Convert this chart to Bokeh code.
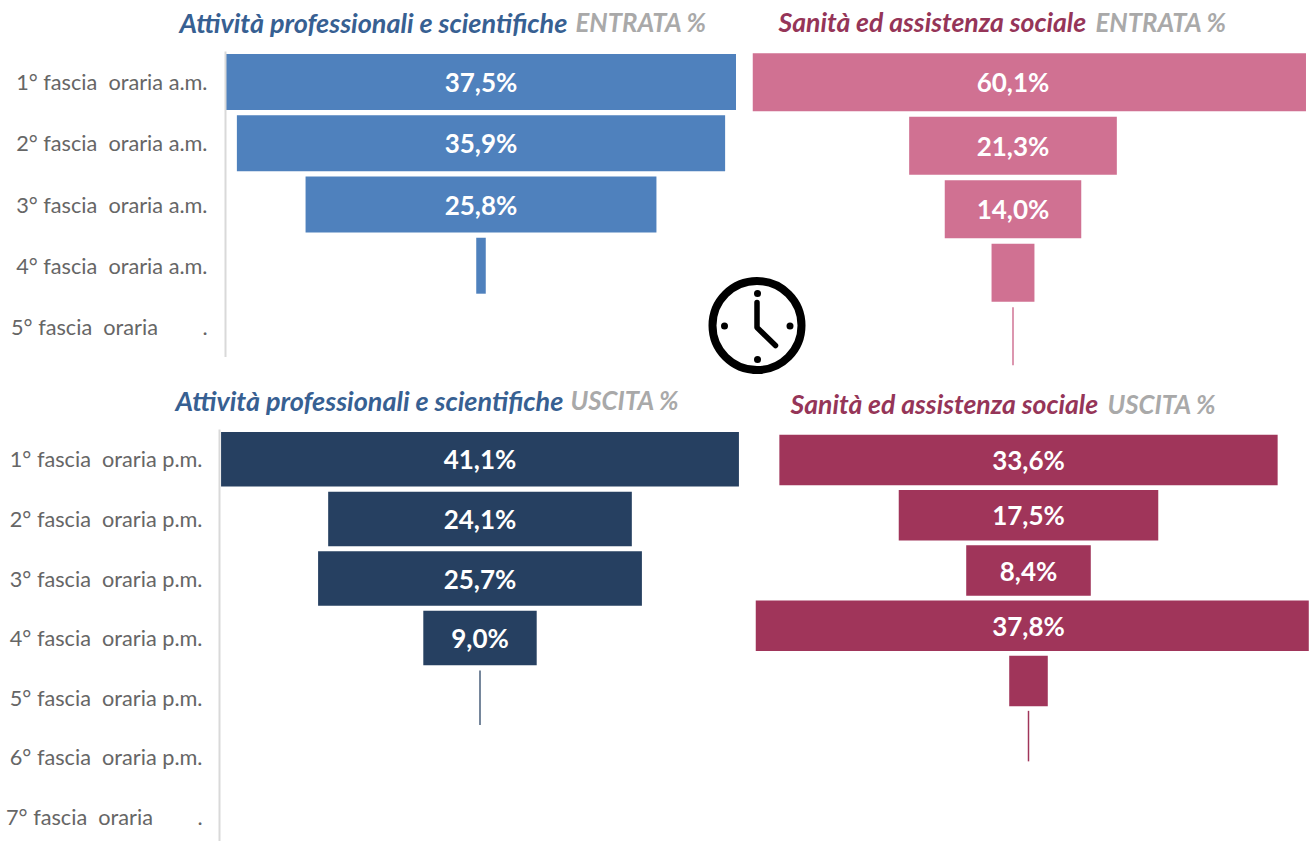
from bokeh.plotting import figure
from bokeh.models import Range1d, FixedTicker, LinearAxis
from bokeh.core.properties import value
from bokeh.embed import file_html
from bokeh.resources import INLINE

FONT = "Lato"
NB = "\u00a0"

fasce_am = [f"1° fascia {NB}oraria a.m.", f"2° fascia {NB}oraria a.m.", f"3° fascia {NB}oraria a.m.",
            f"4° fascia {NB}oraria a.m.", f"5° fascia {NB}oraria {NB*7}."]
fasce_pm = [f"1° fascia {NB}oraria p.m.", f"2° fascia {NB}oraria p.m.", f"3° fascia {NB}oraria p.m.",
            f"4° fascia {NB}oraria p.m.", f"5° fascia {NB}oraria p.m.", f"6° fascia {NB}oraria p.m.",
            f"7° fascia {NB}oraria {NB*7}."]

attivita_entrata = [37.5, 35.9, 25.8, 0.7, 0.0]
attivita_entrata_txt = ["37,5%", "35,9%", "25,8%", "", ""]
sanita_entrata = [60.1, 21.3, 14.0, 4.4, 0.15]
sanita_entrata_txt = ["60,1%", "21,3%", "14,0%", "", ""]
attivita_uscita = [41.1, 24.1, 25.7, 9.0, 0.1, 0.0, 0.0]
attivita_uscita_txt = ["41,1%", "24,1%", "25,7%", "9,0%", "", "", ""]
sanita_uscita = [33.6, 17.5, 8.4, 37.8, 2.6, 0.1, 0.0]
sanita_uscita_txt = ["33,6%", "17,5%", "8,4%", "37,8%", "", "", ""]

BLUE, PINK, NAVY, WINE = "#4f81bd", "#d07192", "#264061", "#a0355a"
TITLE_BLUE, TITLE_WINE, GREY = "#376092", "#953558", "#a9a9a9"


def place(p, left, top):
    p.styles = {"position": "absolute", "left": f"{left}px", "top": f"{top}px"}


def panel(vals, txts, cats, color, fl, fr, ft, fb, cx, scale, pitch, show_axis, standoff=18):
    """frame edges in page pixels; cx = page x of funnel centre; scale = px per %"""
    n_rows = (fb - ft) / pitch
    border_left = fl if show_axis else 0
    p = figure(width=int(fr - fl + border_left), height=int(fb - ft),
               output_backend="svg", toolbar_location=None, tools="",
               x_range=Range1d((fl - cx) / scale, (fr - cx) / scale),
               y_range=Range1d(n_rows - 0.5, -0.5),
               x_axis_location=None, y_axis_location=None,
               min_border=0, min_border_left=border_left,
               background_fill_alpha=0, border_fill_alpha=0)
    p.grid.visible = False
    p.outline_line_color = None
    rows = list(range(len(vals)))
    p.hbar(y=rows, left=[-v / 2 for v in vals], right=[v / 2 for v in vals], height=0.915,
           fill_color=color, line_color=None)
    lab = [i for i in rows if txts[i]]
    p.text(x=[0] * len(lab), y=lab, text=[txts[i] for i in lab],
           text_font=value(FONT), text_font_style="bold", text_font_size="26px",
           text_color="white", text_align="center", text_baseline="middle")
    if show_axis:
        ax = LinearAxis(ticker=FixedTicker(ticks=list(range(len(cats)))),
                        major_label_overrides={i: c for i, c in enumerate(cats)},
                        major_tick_line_color=None, minor_tick_line_color=None,
                        major_tick_out=0, major_tick_in=0,
                        axis_line_color="#d9d9d9", axis_line_width=2,
                        major_label_standoff=standoff,
                        major_label_text_font=FONT, major_label_text_font_size="21.7px",
                        major_label_text_color="#666666")
        p.add_layout(ax, "left")
    return p


# background: titles and clock, in page pixels
bg = figure(width=1309, height=841, output_backend="svg", toolbar_location=None, tools="",
            x_range=Range1d(0, 1309), y_range=Range1d(841, 0),
            x_axis_location=None, y_axis_location=None, min_border=0)
bg.grid.visible = False
bg.outline_line_color = None
titles = [
    ("Attività professionali e scientifiche", TITLE_BLUE, 179, 21.5, "27px"),
    ("ENTRATA %", GREY, 575, 21.5, "25.7px"),
    ("Sanità ed assistenza sociale", TITLE_WINE, 778, 21.5, "26.6px"),
    ("ENTRATA %", GREY, 1095, 21.5, "25.7px"),
    ("Attività professionali e scientifiche", TITLE_BLUE, 175, 399.5, "27px"),
    ("USCITA %", GREY, 570, 399.5, "25.7px"),
    ("Sanità ed assistenza sociale", TITLE_WINE, 790, 403.5, "26.6px"),
    ("USCITA %", GREY, 1107, 403.5, "25.7px"),
]
for t, c, x, y, fs in titles:
    bg.text(x=[x], y=[y], text=[t], text_color=c, text_font=value(FONT),
            text_font_style="bold italic", text_font_size=fs,
            text_align="left", text_baseline="middle")

# clock
bg.scatter(x=[756.5], y=[325], size=89, marker="circle", fill_color=None, line_color="black", line_width=8)
bg.scatter(x=[757, 724, 789.5, 757], y=[293, 325.5, 325.5, 359], size=7, marker="circle",
           fill_color="black", line_color=None)
bg.line(x=[756.5, 756.5, 775], y=[302, 327, 345], line_color="black", line_width=5.5,
        line_join="round", line_cap="round")
bg.line(x=[752, 762], y=[372, 372], line_color="black", line_width=3)

p_a = panel(attivita_entrata, attivita_entrata_txt, fasce_am, BLUE, 225, 745, 51, 357, 480.5, 13.6, 61.2, True)
p_b = panel(sanita_entrata, sanita_entrata_txt, fasce_am, PINK, 752, 1309, 50, 368, 1012.5, 9.75, 63.5, False)
p_c = panel(attivita_uscita, attivita_uscita_txt, fasce_pm, NAVY, 219, 745, 429, 841, 479.5, 12.6, 59.6, True, standoff=17)
p_d = panel(sanita_uscita, sanita_uscita_txt, fasce_pm, WINE, 755, 1309, 432, 819, 1028, 14.83, 55.2, False)

place(bg, 0, 0)
place(p_a, 0, 51)
place(p_b, 752, 50)
place(p_c, 0, 429)
place(p_d, 755, 432)

open("out.html", "w").write(file_html([bg, p_a, p_b, p_c, p_d], INLINE))
